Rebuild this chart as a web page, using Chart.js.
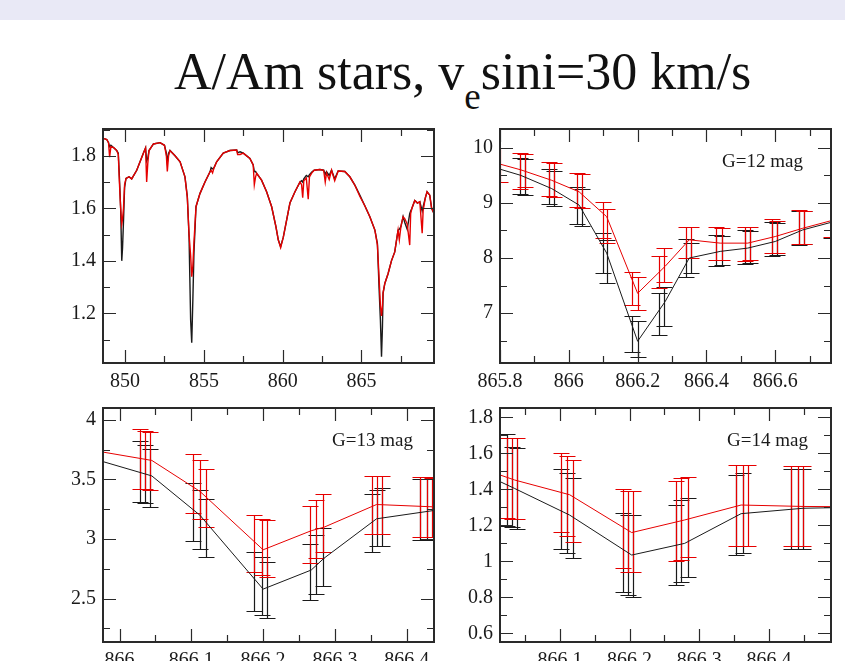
<!DOCTYPE html>
<html>
<head>
<meta charset="utf-8">
<script src="https://cdn.jsdelivr.net/npm/chart.js@4.4.1/dist/chart.umd.min.js"></script>
<style>
  html, body { margin: 0; padding: 0; background: #fff; overflow: hidden; width: 845px; height: 661px; }
  #band { position: absolute; left: 0; top: 0; width: 845px; height: 20px; background: #e9e9f6; }
  #title { position: absolute; left: 174px; top: 46px; font-family: "Liberation Serif", serif; font-size: 52px;
           line-height: 52px; color: #111; white-space: nowrap; }
  #title sub { font-size: 37px; vertical-align: -20px; line-height: 0; }
</style>
</head>
<body>
<div id="band"></div>
<div id="title">A/Am stars, v<sub>e</sub>sini=30 km/s</div>
<script>
// ---- panel 1 : full spectrum (black and red)
const specWave = [848.63, 848.84, 848.95, 849.02, 849.10, 849.30, 849.47, 849.57, 849.64, 849.72, 849.79, 849.84, 849.90, 849.97,
  850.06, 850.25, 850.42, 850.74, 851.16, 851.30, 851.37, 851.44, 851.52, 851.80, 852.22, 852.50, 852.62, 852.68, 852.76, 852.85,
  853.17, 853.49, 853.80, 853.95, 854.06, 854.16, 854.23, 854.30, 854.37, 854.50, 854.75, 855.07, 855.39, 855.46, 855.55, 855.65, 855.81,
  856.23, 856.65, 857.08, 857.14, 857.30, 857.50, 857.92, 858.13, 858.20, 858.28, 858.35, 858.66, 858.98, 859.30, 859.57, 859.72, 859.87,
  860.04, 860.25, 860.46, 860.78, 861.10, 861.20, 861.27, 861.34, 861.50, 861.62, 861.70, 861.85, 862.00, 862.36, 862.60, 862.70, 862.78,
  862.95, 863.10, 863.30, 863.52, 863.94, 864.26, 864.58, 864.90, 865.21, 865.53, 865.85, 866.01, 866.12, 866.20, 866.27, 866.33,
  866.37, 866.48, 866.69, 866.90, 867.11, 867.32, 867.40, 867.50, 867.64, 867.75, 867.90, 868.06, 868.12, 868.20, 868.38, 868.55,
  868.70, 868.85, 868.91, 869.05, 869.16, 869.33, 869.45, 869.60];
const specBlack = [1.866, 1.862, 1.850, 1.835, 1.840, 1.830, 1.820, 1.810, 1.720, 1.600, 1.400, 1.450, 1.550, 1.680,
  1.714, 1.720, 1.712, 1.745, 1.810, 1.830, 1.780, 1.790, 1.820, 1.845, 1.850, 1.840, 1.810, 1.775, 1.810, 1.820,
  1.800, 1.777, 1.720, 1.645, 1.490, 1.175, 1.088, 1.250, 1.430, 1.606, 1.656, 1.700, 1.739, 1.755, 1.750, 1.755, 1.777,
  1.810, 1.820, 1.822, 1.812, 1.815, 1.810, 1.790, 1.765, 1.740, 1.740, 1.733, 1.707, 1.663, 1.606, 1.530, 1.480, 1.454,
  1.490, 1.555, 1.620, 1.663, 1.700, 1.705, 1.700, 1.712, 1.725, 1.720, 1.728, 1.738, 1.745, 1.748, 1.745, 1.730, 1.740,
  1.725, 1.745, 1.712, 1.742, 1.740, 1.720, 1.688, 1.650, 1.610, 1.568, 1.517, 1.466, 1.290, 1.174, 1.035, 1.150,
  1.276, 1.314, 1.352, 1.400, 1.434, 1.517, 1.520, 1.530, 1.568, 1.545, 1.520, 1.580, 1.590, 1.600, 1.630, 1.620,
  1.625, 1.590, 1.606, 1.640, 1.663, 1.650, 1.600, 1.580];
const specRed = [1.866, 1.862, 1.850, 1.795, 1.835, 1.830, 1.820, 1.805, 1.700, 1.600, 1.540, 1.560, 1.600, 1.690,
  1.714, 1.720, 1.712, 1.745, 1.810, 1.830, 1.700, 1.770, 1.820, 1.845, 1.850, 1.840, 1.800, 1.740, 1.800, 1.820,
  1.800, 1.777, 1.720, 1.640, 1.500, 1.420, 1.340, 1.380, 1.470, 1.606, 1.656, 1.700, 1.739, 1.745, 1.735, 1.755, 1.777,
  1.810, 1.820, 1.822, 1.805, 1.805, 1.810, 1.790, 1.765, 1.690, 1.720, 1.733, 1.707, 1.663, 1.606, 1.530, 1.480, 1.450,
  1.490, 1.555, 1.620, 1.663, 1.700, 1.690, 1.640, 1.705, 1.715, 1.635, 1.720, 1.735, 1.745, 1.748, 1.745, 1.700, 1.735,
  1.710, 1.745, 1.705, 1.742, 1.740, 1.720, 1.688, 1.645, 1.610, 1.568, 1.517, 1.460, 1.330, 1.230, 1.190, 1.230,
  1.280, 1.314, 1.352, 1.400, 1.434, 1.517, 1.480, 1.530, 1.568, 1.560, 1.540, 1.460, 1.580, 1.600, 1.630, 1.620,
  1.625, 1.505, 1.590, 1.640, 1.663, 1.650, 1.600, 1.580];
const p1XTicks = [850, 855, 860, 865];
const p1YTicks = [1.2, 1.4, 1.6, 1.8];

// ---- panel 2 : G=12 mag
const g12X = [865.79, 865.86, 865.95, 866.03, 866.11, 866.20, 866.28, 866.35, 866.44, 866.52, 866.60, 866.68, 866.77];
const g12Black = [9.63, 9.50, 9.26, 8.96, 8.09, 6.49, 7.21, 8.00, 8.12, 8.18, 8.30, 8.51, 8.66];
const g12Red = [9.72, 9.60, 9.41, 9.20, 8.75, 7.36, 7.85, 8.33, 8.27, 8.27, 8.39, 8.54, 8.69];
const g12BlackBars = [[865.859, 9.17, 9.81], [865.873, 9.15, 9.79], [865.941, 8.98, 9.61], [865.956, 8.95, 9.58],
  [866.024, 8.62, 9.29], [866.039, 8.58, 9.25], [866.098, 7.72, 8.45], [866.112, 7.55, 8.33],
  [866.185, 6.30, 6.94], [866.200, 6.20, 6.85], [866.263, 6.61, 7.36], [866.278, 6.76, 7.48],
  [866.341, 7.66, 8.34], [866.356, 7.72, 8.27], [866.429, 7.85, 8.42], [866.444, 7.87, 8.40],
  [866.512, 7.89, 8.51], [866.527, 7.91, 8.49], [866.590, 8.03, 8.66], [866.605, 8.05, 8.64],
  [866.668, 8.24, 8.86], [866.683, 8.26, 8.85], [866.761, 8.36, 8.99]];
const g12RedBars = [[865.801, 9.38, 9.99], [865.859, 9.26, 9.90], [865.873, 9.28, 9.88], [865.941, 9.12, 9.75], [865.956, 9.10, 9.72],
  [866.024, 8.93, 9.55], [866.039, 8.90, 9.52], [866.098, 8.36, 9.02], [866.112, 8.27, 8.88],
  [866.185, 7.15, 7.75], [866.200, 7.06, 7.66], [866.263, 7.45, 8.03], [866.278, 7.57, 8.18],
  [866.341, 8.00, 8.57], [866.356, 8.00, 8.57], [866.429, 7.97, 8.56], [866.444, 7.97, 8.55],
  [866.512, 7.95, 8.57], [866.527, 7.97, 8.56], [866.590, 8.09, 8.70], [866.605, 8.10, 8.68],
  [866.668, 8.26, 8.87], [866.683, 8.25, 8.86], [866.761, 8.38, 8.99]];
const p2XTicks = [865.8, 866, 866.2, 866.4, 866.6];
const p2YTicks = [7, 8, 9, 10];

// ---- panel 3 : G=13 mag
const g13X = [865.977, 866.045, 866.112, 866.200, 866.267, 866.285, 866.358, 866.438];
const g13Black = [3.65, 3.53, 3.20, 2.58, 2.74, 2.84, 3.17, 3.24];
const g13Red = [3.73, 3.66, 3.40, 2.91, 3.07, 3.10, 3.29, 3.27];
const g13BlackBars = [[866.028, 3.31, 3.82], [866.035, 3.30, 3.79], [866.042, 3.27, 3.76],
  [866.102, 2.98, 3.47], [866.112, 2.92, 3.41], [866.121, 2.85, 3.34],
  [866.188, 2.40, 2.89], [866.198, 2.36, 2.85], [866.205, 2.34, 2.81],
  [866.265, 2.49, 2.96], [866.274, 2.54, 3.03], [866.284, 2.61, 3.09],
  [866.351, 2.89, 3.38], [866.358, 2.94, 3.41], [866.365, 2.94, 3.43],
  [866.419, 2.99, 3.50], [866.428, 2.99, 3.50]];
const g13RedBars = [[866.028, 3.42, 3.92], [866.035, 3.42, 3.91], [866.042, 3.41, 3.90],
  [866.102, 3.22, 3.71], [866.112, 3.17, 3.66], [866.121, 3.10, 3.59],
  [866.188, 2.72, 3.20], [866.198, 2.70, 3.17], [866.205, 2.68, 3.16],
  [866.265, 2.80, 3.28], [866.274, 2.84, 3.33], [866.284, 2.89, 3.38],
  [866.351, 3.04, 3.53], [866.358, 3.04, 3.53], [866.365, 3.04, 3.53],
  [866.419, 3.02, 3.52], [866.428, 3.02, 3.52], [866.435, 3.02, 3.51]];
const p3XTicks = [866, 866.1, 866.2, 866.3, 866.4];
const p3YTicks = [2.5, 3, 3.5, 4];

// ---- panel 4 : G=14 mag
const g14X = [866.014, 866.035, 866.114, 866.203, 866.279, 866.360, 866.449, 866.489];
const g14Black = [1.443, 1.405, 1.257, 1.035, 1.100, 1.265, 1.295, 1.298];
const g14Red = [1.480, 1.452, 1.370, 1.160, 1.230, 1.313, 1.305, 1.304];
const g14BlackBars = [[866.024, 1.196, 1.705], [866.031, 1.189, 1.637], [866.038, 1.178, 1.628],
  [866.102, 1.067, 1.511], [866.110, 1.048, 1.493], [866.119, 1.017, 1.461],
  [866.191, 0.831, 1.267], [866.198, 0.813, 1.257], [866.205, 0.804, 1.257],
  [866.267, 0.869, 1.313], [866.274, 0.887, 1.340], [866.284, 0.915, 1.350],
  [866.353, 1.035, 1.480], [866.363, 1.044, 1.489],
  [866.432, 1.067, 1.511], [866.442, 1.067, 1.511], [866.449, 1.067, 1.511]];
const g14RedBars = [[866.024, 1.239, 1.683], [866.031, 1.233, 1.683], [866.038, 1.233, 1.683],
  [866.102, 1.161, 1.600], [866.110, 1.141, 1.585], [866.119, 1.109, 1.563],
  [866.191, 0.961, 1.400], [866.198, 0.943, 1.390], [866.205, 0.943, 1.390],
  [866.267, 1.000, 1.448], [866.274, 1.007, 1.461], [866.284, 1.026, 1.470],
  [866.353, 1.087, 1.535], [866.363, 1.087, 1.535], [866.370, 1.087, 1.535],
  [866.432, 1.085, 1.530], [866.442, 1.085, 1.530], [866.449, 1.085, 1.530]];
const p4XTicks = [866.1, 866.2, 866.3, 866.4];
const p4YTicks = [0.6, 0.8, 1, 1.2, 1.4, 1.6, 1.8];

const INK = '#1a1a1a', RED = '#e60000', FRAME = '#2a2a2a';
const FONT = '"Liberation Serif", "Times New Roman", serif';

const toXY = (xs, ys) => xs.map((x, i) => ({ x: x, y: ys[i] }));
const fmt = v => String(+(+v).toFixed(3));

// error bars go under the lines; frame, inward ticks and the G= label on top
const panelDecor = {
  id: 'panelDecor',
  beforeDatasetsDraw(chart, args, o) {
    const { ctx, chartArea: a, scales: { x, y } } = chart;
    ctx.save();
    ctx.beginPath();
    ctx.rect(a.left, a.top, a.right - a.left, a.bottom - a.top);
    ctx.clip();
    (o.bars || []).forEach(set => {
      ctx.strokeStyle = set.color;
      ctx.lineWidth = 1.2;
      ctx.beginPath();
      set.data.forEach(([bx, lo, hi]) => {
        const px = Math.round(x.getPixelForValue(bx)) + 0.5;
        const p1 = Math.round(y.getPixelForValue(lo)) + 0.5;
        const p2 = Math.round(y.getPixelForValue(hi)) + 0.5;
        ctx.moveTo(px, p1); ctx.lineTo(px, p2);
        ctx.moveTo(px - 8, p1); ctx.lineTo(px + 8, p1);
        ctx.moveTo(px - 8, p2); ctx.lineTo(px + 8, p2);
      });
      ctx.stroke();
    });
    ctx.restore();
  },
  afterDraw(chart, args, o) {
    const { ctx, chartArea: a, scales: { x, y } } = chart;
    ctx.save();
    ctx.strokeStyle = FRAME;
    ctx.lineWidth = 1.2;
    ctx.beginPath();
    const steps = (scale, step) => {
      const out = [];
      for (let k = Math.ceil(scale.min / step - 1e-6); k * step <= scale.max + 1e-6; k++) out.push(k * step);
      return out;
    };
    const tickX = (v, len) => {
      const px = Math.round(x.getPixelForValue(v)) + 0.5;
      ctx.moveTo(px, a.bottom); ctx.lineTo(px, a.bottom - len);
      ctx.moveTo(px, a.top); ctx.lineTo(px, a.top + len);
    };
    const tickY = (v, len) => {
      const py = Math.round(y.getPixelForValue(v)) + 0.5;
      ctx.moveTo(a.left, py); ctx.lineTo(a.left + len, py);
      ctx.moveTo(a.right, py); ctx.lineTo(a.right - len, py);
    };
    steps(x, o.xMinor).forEach(v => tickX(v, 7));
    steps(y, o.yMinor).forEach(v => tickY(v, 7));
    x.ticks.forEach(t => tickX(t.value, 13));
    y.ticks.forEach(t => tickY(t.value, 13));
    ctx.stroke();
    ctx.lineWidth = 2;
    ctx.strokeRect(a.left, a.top, a.right - a.left, a.bottom - a.top);
    if (o.label) {
      ctx.fillStyle = INK;
      ctx.font = '19px ' + FONT;
      ctx.textAlign = 'right';
      ctx.textBaseline = 'alphabetic';
      ctx.fillText(o.label, a.right - o.labelInset, a.top + 38);
    }
    ctx.restore();
  }
};

function makePanel(box, p) {
  const w = box.r - box.l + 70, h = box.b - box.t + 45;
  const cv = document.createElement('canvas');
  cv.width = w; cv.height = h;
  cv.style.cssText = `position:absolute;left:${box.l - 60}px;top:${box.t - 10}px;width:${w}px;height:${h}px`;
  document.body.appendChild(cv);
  const tickFont = { family: FONT, size: 20 };
  return new Chart(cv, {
    type: 'line',
    data: {
      datasets: [
        { data: p.red, borderColor: RED, borderWidth: p.lw, pointRadius: 0, tension: 0 },
        { data: p.black, borderColor: INK, borderWidth: p.lw, pointRadius: 0, tension: 0 }
      ]
    },
    options: {
      responsive: false,
      animation: false,
      events: [],
      layout: { padding: { left: 0, right: 10, top: 10, bottom: 0 } },
      plugins: {
        legend: { display: false },
        tooltip: { enabled: false },
        panelDecor: { bars: p.bars, xMinor: p.xMinor, yMinor: p.yMinor, label: p.label, labelInset: p.labelInset }
      },
      scales: {
        x: {
          type: 'linear', min: p.xMin, max: p.xMax,
          afterBuildTicks: ax => { ax.ticks = p.xTicks.map(v => ({ value: v })); },
          afterFit: s => { s.height = 35; s.paddingLeft = 0; s.paddingRight = 0; },
          grid: { display: false, drawTicks: false },
          border: { display: false },
          ticks: { padding: 7, font: tickFont, color: INK, maxRotation: 0, autoSkip: false, callback: fmt }
        },
        y: {
          type: 'linear', min: p.yMin, max: p.yMax,
          afterBuildTicks: ax => { ax.ticks = p.yTicks.map(v => ({ value: v })); },
          afterFit: s => { s.width = 60; s.paddingTop = 0; s.paddingBottom = 0; },
          grid: { display: false, drawTicks: false },
          border: { display: false },
          ticks: { padding: 7, font: tickFont, color: INK, autoSkip: false, callback: fmt }
        }
      }
    },
    plugins: [panelDecor]
  });
}

makePanel({ l: 103, r: 434, t: 129, b: 363 }, {
  black: toXY(specWave, specBlack), red: toXY(specWave, specRed), lw: 1.4,
  xMin: 848.6, xMax: 869.6, yMin: 1.011, yMax: 1.902,
  xTicks: p1XTicks, yTicks: p1YTicks, xMinor: 2.5, yMinor: 0.1
});
makePanel({ l: 500, r: 831, t: 129, b: 363 }, {
  black: toXY(g12X, g12Black), red: toXY(g12X, g12Red), lw: 1,
  bars: [{ color: INK, data: g12BlackBars }, { color: RED, data: g12RedBars }],
  xMin: 865.8, xMax: 866.762, yMin: 6.096, yMax: 10.34,
  xTicks: p2XTicks, yTicks: p2YTicks, xMinor: 0.1, yMinor: 0.5,
  label: 'G=12 mag', labelInset: 28
});
makePanel({ l: 103, r: 434, t: 408, b: 642 }, {
  black: toXY(g13X, g13Black), red: toXY(g13X, g13Red), lw: 1,
  bars: [{ color: INK, data: g13BlackBars }, { color: RED, data: g13RedBars }],
  xMin: 865.977, xMax: 866.438, yMin: 2.136, yMax: 4.10,
  xTicks: p3XTicks, yTicks: p3YTicks, xMinor: 0.05, yMinor: 0.25,
  label: 'G=13 mag', labelInset: 21
});
makePanel({ l: 500, r: 831, t: 408, b: 642 }, {
  black: toXY(g14X, g14Black), red: toXY(g14X, g14Red), lw: 1,
  bars: [{ color: INK, data: g14BlackBars }, { color: RED, data: g14RedBars }],
  xMin: 866.014, xMax: 866.489, yMin: 0.552, yMax: 1.852,
  xTicks: p4XTicks, yTicks: p4YTicks, xMinor: 0.05, yMinor: 0.1,
  label: 'G=14 mag', labelInset: 23
});
</script>
</body>
</html>
